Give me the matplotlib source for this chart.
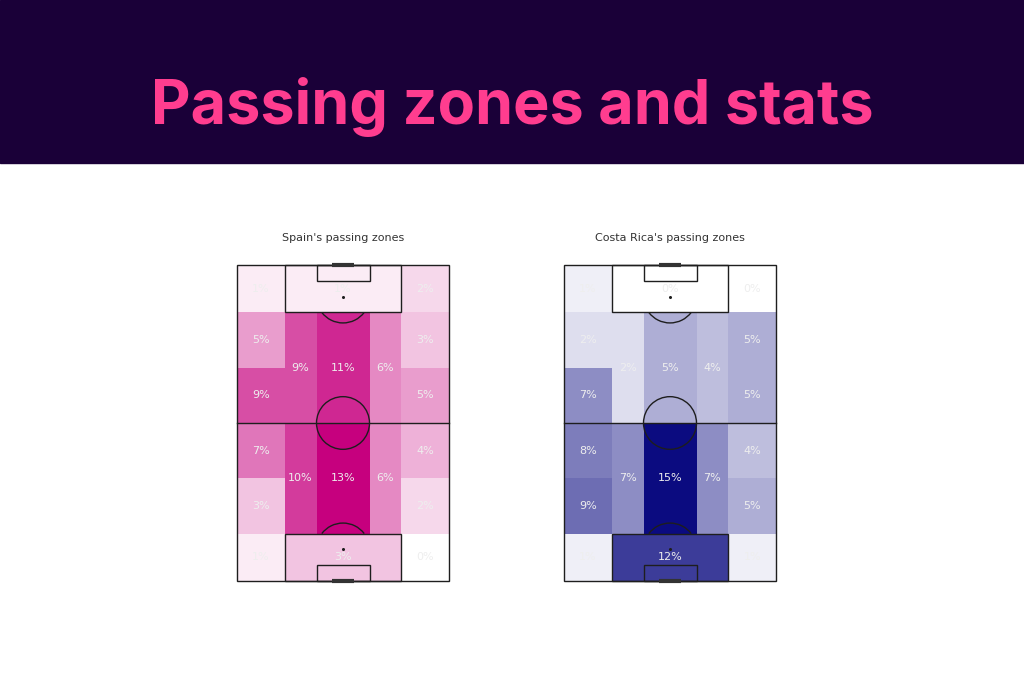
import numpy as np
import matplotlib
matplotlib.use("Agg")
import matplotlib.pyplot as plt
from matplotlib.colors import LinearSegmentedColormap
from matplotlib.patches import Rectangle, Circle, Arc

# Zone shares (%), listed bottom (own goal) to top (opponent goal)
spain_left_wing = [1, 3, 7, 9, 5, 1]
spain_right_wing = [0, 2, 4, 5, 3, 2]
spain_left_half = [10, 9]      # 18-60, 60-102
spain_centre = [13, 11]
spain_right_half = [6, 6]
spain_boxes = [3, 1]           # own box, opposition box

costa_left_wing = [1, 9, 8, 7, 2, 1]
costa_right_wing = [1, 5, 4, 5, 5, 0]
costa_left_half = [7, 2]
costa_centre = [15, 5]
costa_right_half = [7, 4]
costa_boxes = [12, 0]

# StatsBomb-style pitch (80 wide, 120 long) and positional zone edges
width_edges = [0, 18, 30, 50, 62, 80]
length_edges = [0, 18, 39, 60, 81, 102, 120]


def zone_grid(lw, rw, lh, c, rh, boxes):
    grid = np.zeros((6, 5))
    for r in range(6):
        grid[r, 0] = lw[r]
        grid[r, 4] = rw[r]
    grid[0, 1:4] = boxes[0]
    grid[5, 1:4] = boxes[1]
    grid[1:3, 1:4] = [lh[0], c[0], rh[0]]
    grid[3:5, 1:4] = [lh[1], c[1], rh[1]]
    return grid


def zone_labels(lw, rw, lh, c, rh, boxes):
    labels = []
    for r in range(6):
        ym = (length_edges[r] + length_edges[r + 1]) / 2
        labels.append((9, ym, lw[r]))
        labels.append((71, ym, rw[r]))
    labels.append((40, 9, boxes[0]))
    labels.append((40, 111, boxes[1]))
    for xm, vals in [(24, lh), (40, c), (56, rh)]:
        labels.append((xm, 39, vals[0]))
        labels.append((xm, 81, vals[1]))
    return labels


def draw_pitch(ax, lc='#1e1e1e', lw=1.0):
    kw = dict(fill=False, ec=lc, lw=lw, clip_on=False, zorder=3)
    ax.add_patch(Rectangle((0, 0), 80, 120, **kw))
    ax.plot([0, 80], [60, 60], color=lc, lw=lw, zorder=3, clip_on=False)
    ax.add_patch(Circle((40, 60), 10, **kw))
    for y0, sgn in [(0, 1), (120, -1)]:
        ax.add_patch(Rectangle((18, y0), 44, 18 * sgn, **kw))
        ax.add_patch(Rectangle((30, y0), 20, 6 * sgn, **kw))
        spot = y0 + 12 * sgn
        ax.plot(40, spot, 'o', ms=1.2, color=lc, zorder=3)
        if sgn == 1:
            ax.add_patch(Arc((40, spot), 20, 20, theta1=36.87, theta2=143.13, **kw))
        else:
            ax.add_patch(Arc((40, spot), 20, 20, theta1=216.87, theta2=323.13, **kw))
        ax.plot([36, 44], [y0, y0], color='#333333', lw=3, zorder=4,
                solid_capstyle='butt', clip_on=False)


fig = plt.figure(figsize=(10.24, 6.83), dpi=100, facecolor='white')

# header banner
fig.patches.append(Rectangle((0, 1 - 163 / 683), 1, 163 / 683, transform=fig.transFigure,
                             color='#1a0038', zorder=0))
fig.text(0.5, 1 - 124 / 683, 'Passing zones and stats', color='#ff3d8f', fontsize=44,
         fontweight='bold', family=['Inter', 'DejaVu Sans'], ha='center', va='baseline')

teams = [
    ("Spain's passing zones", '#c6007e', 237,
     zone_grid(spain_left_wing, spain_right_wing, spain_left_half, spain_centre, spain_right_half, spain_boxes),
     zone_labels(spain_left_wing, spain_right_wing, spain_left_half, spain_centre, spain_right_half, spain_boxes)),
    ("Costa Rica's passing zones", '#0b0b80', 564,
     zone_grid(costa_left_wing, costa_right_wing, costa_left_half, costa_centre, costa_right_half, costa_boxes),
     zone_labels(costa_left_wing, costa_right_wing, costa_left_half, costa_centre, costa_right_half, costa_boxes)),
]

for title, colour, left_px, grid, labels in teams:
    ax = fig.add_axes([left_px / 1024, 1 - 581 / 683, 212 / 1024, 316 / 683])
    cmap = LinearSegmentedColormap.from_list('zone', ['white', colour])
    ax.pcolormesh(width_edges, length_edges, grid, cmap=cmap, vmin=0, vmax=grid.max(),
                  shading='flat', edgecolors='none', antialiased=False, zorder=1)
    draw_pitch(ax)
    for x, y, v in labels:
        ax.text(x, y, f'{v:.0f}%', color='#eeeeee', fontsize=8, ha='center', va='center', zorder=5)
    ax.set_xlim(0, 80)
    ax.set_ylim(0, 120)
    ax.axis('off')
    ax.text(0.5, 1 + 27 / 316, title, transform=ax.transAxes, ha='center', va='center',
            fontsize=8, color='#333333')

fig.savefig('out.png', dpi=100, facecolor='white')
